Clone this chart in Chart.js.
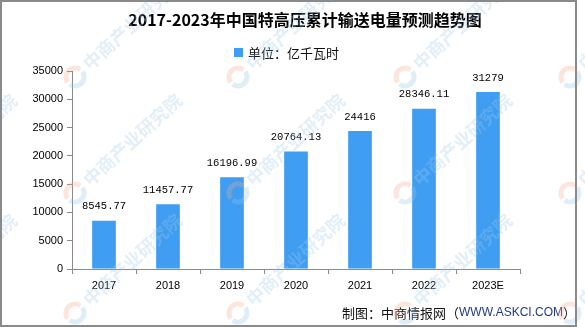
<!DOCTYPE html>
<html>
<head>
<meta charset="utf-8">
<script src="https://cdn.jsdelivr.net/npm/chart.js@4.4.0/dist/chart.umd.min.js"></script>
<style>
  html, body { margin: 0; padding: 0; background: #fff; }
  #wrap { position: relative; width: 585px; height: 327px; }
</style>
</head>
<body>
<div id="wrap"><canvas id="chart" width="585" height="327"></canvas></div>
<script>
// -------- Data --------
const years = ["2017", "2018", "2019", "2020", "2021", "2022", "2023E"];
const power = [8545.77, 11457.77, 16196.99, 20764.13, 24416, 28346.11, 31279];
const powerLabels = ["8545.77", "11457.77", "16196.99", "20764.13", "24416", "28346.11", "31279"];
const yTicks = [0, 5000, 10000, 15000, 20000, 25000, 30000, 35000];

const titleText = "2017-2023年中国特高压累计输送电量预测趋势图";
const legendText = "单位：亿千瓦时";
const sourceText = "制图：中商情报网（";
const sourceUrl = "WWW.ASKCI.COM";
const watermark = "中商产业研究院";

const BAR = "#3f9ef2";
const AXIS = "#8a8a8a";
const CJK = '"Noto Sans CJK SC", "Liberation Sans", sans-serif';

// -------- Plugins --------
const valueLabels = {
  id: "valueLabels",
  afterDatasetsDraw(chart) {
    const ctx = chart.ctx;
    ctx.save();
    ctx.font = '10.5px "Liberation Mono", monospace';
    ctx.fillStyle = "#000";
    ctx.textAlign = "center";
    ctx.textBaseline = "middle";
    chart.getDatasetMeta(0).data.forEach((bar, i) => {
      ctx.fillText(powerLabels[i], bar.x, bar.y - 14);
    });
    ctx.restore();
  }
};

const decorations = {
  id: "decorations",
  afterDraw(chart) {
    const ctx = chart.ctx;
    ctx.save();

    // title
    ctx.font = "bold 16px " + CJK;
    ctx.fillStyle = "#000";
    ctx.textAlign = "center";
    ctx.textBaseline = "middle";
    ctx.fillText(titleText, 305, 20);

    // legend
    ctx.fillStyle = BAR;
    ctx.fillRect(234, 48, 9, 9);
    ctx.font = "13px " + CJK;
    ctx.fillStyle = "#111";
    ctx.textAlign = "left";
    ctx.fillText(legendText, 248, 53);

    // source line
    let x = 342;
    ctx.font = "13px " + CJK;
    ctx.fillStyle = "#111";
    ctx.fillText(sourceText, x, 313);
    x += ctx.measureText(sourceText).width;
    ctx.font = '12px "Liberation Sans", sans-serif';
    ctx.fillStyle = "#1f3c82";
    ctx.fillText(sourceUrl, x, 313);
    x += ctx.measureText(sourceUrl).width;
    ctx.font = "13px " + CJK;
    ctx.fillStyle = "#111";
    ctx.fillText("）", x, 313);

    // watermark
    const cols = [-90, 75, 238, 405, 570];
    const rows = [77, 193, 313];
    rows.forEach(wy => cols.forEach(wx => {
      ctx.save();
      ctx.translate(wx, wy);
      ctx.lineWidth = 5;
      ctx.strokeStyle = "rgba(245,170,140,0.3)";
      ctx.beginPath(); ctx.arc(0, 0, 9, Math.PI * 0.8, Math.PI * 1.7); ctx.stroke();
      ctx.strokeStyle = "rgba(150,195,230,0.3)";
      ctx.beginPath(); ctx.arc(0, 0, 9, Math.PI * 1.8, Math.PI * 2.7); ctx.stroke();
      ctx.translate(8, -8);
      ctx.rotate(-0.74);
      ctx.font = "bold 18px " + CJK;
      ctx.fillStyle = "rgba(160,200,232,0.3)";
      ctx.textAlign = "left";
      ctx.textBaseline = "middle";
      ctx.fillText(watermark, 4, 0);
      ctx.restore();
    }));

    // frame
    ctx.strokeStyle = AXIS;
    ctx.lineWidth = 2;
    ctx.strokeRect(1, 1, 575, 325);
    ctx.restore();
  }
};

// -------- Chart --------
new Chart(document.getElementById("chart"), {
  type: "bar",
  data: {
    labels: years,
    datasets: [{
      label: legendText,
      data: power,
      backgroundColor: BAR,
      hoverBackgroundColor: BAR,
      barPercentage: 0.37,
      categoryPercentage: 1
    }]
  },
  options: {
    responsive: false,
    animation: false,
    layout: { padding: { top: 71, right: 65, bottom: 0, left: 0 } },
    plugins: {
      legend: { display: false },
      title: { display: false },
      tooltip: { enabled: false }
    },
    scales: {
      x: {
        afterFit: s => { s.height = 58; },
        grid: { drawOnChartArea: false, drawTicks: true, tickLength: 5, color: AXIS, offset: true },
        border: { color: AXIS, width: 1 },
        ticks: { color: "#000", padding: 5, font: { family: '"Liberation Sans"', size: 11 } }
      },
      y: {
        min: 0,
        max: 35000,
        afterFit: s => { s.width = 72; },
        afterBuildTicks: s => { s.ticks = yTicks.map(v => ({ value: v })); },
        grid: { drawOnChartArea: false, drawTicks: true, tickLength: 5, color: AXIS },
        border: { color: AXIS, width: 1 },
        ticks: {
          color: "#000",
          padding: 4,
          font: { family: '"Liberation Sans"', size: 11 },
          callback: v => String(v)
        }
      }
    }
  },
  plugins: [valueLabels, decorations]
});
</script>
</body>
</html>
